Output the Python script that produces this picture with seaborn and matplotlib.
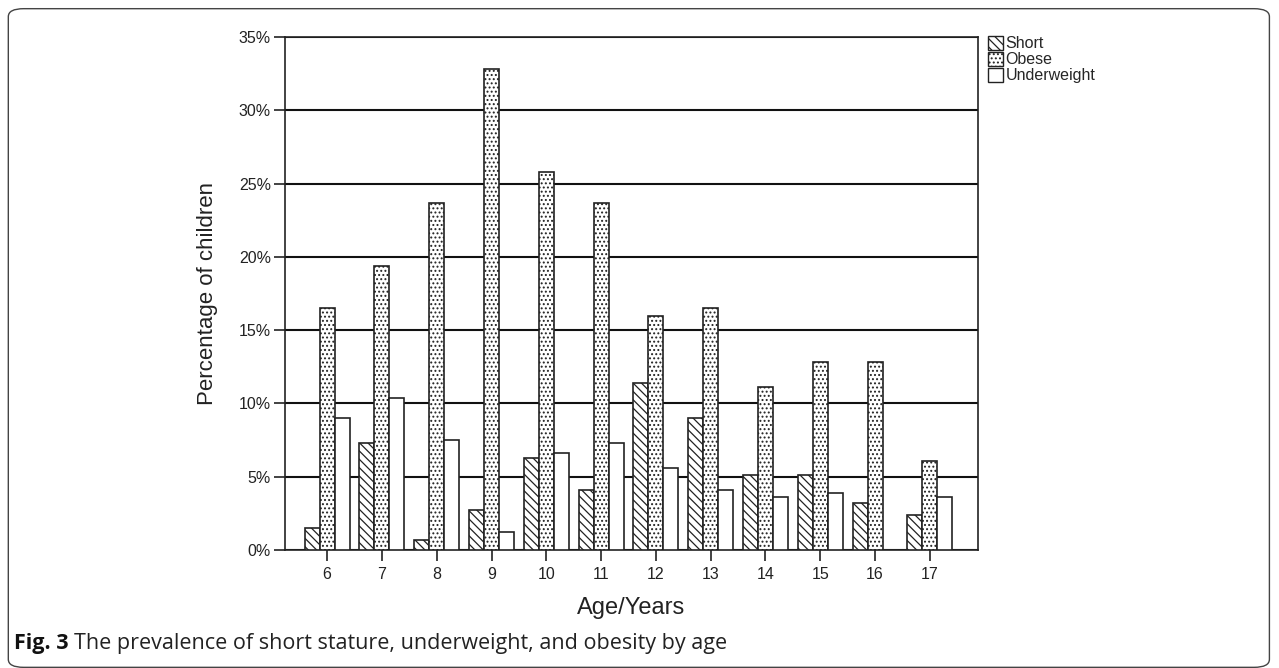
import numpy as np
import pandas as pd
import matplotlib
matplotlib.use('Agg')
import matplotlib.pyplot as plt
import seaborn as sns
from matplotlib.patches import Patch, FancyBboxPatch
from matplotlib.ticker import FuncFormatter

# ---------- data ----------
ages = ['6', '7', '8', '9', '10', '11', '12', '13', '14', '15', '16', '17']
short = [1.5, 7.3, 0.7, 2.7, 6.3, 4.1, 11.4, 9.0, 5.1, 5.1, 3.2, 2.4]
obese = [16.5, 19.4, 23.7, 32.8, 25.8, 23.7, 16.0, 16.5, 11.1, 12.8, 12.8, 6.1]
underweight = [9.0, 10.4, 7.5, 1.2, 6.6, 7.3, 5.6, 4.1, 3.6, 3.9, 0.0, 3.6]
groups = ['Short', 'Obese', 'Underweight']
hatches = ['\\\\\\\\', '....', '']

df = pd.DataFrame({
    'age': ages * 3,
    'value': short + obese + underweight,
    'group': [g for g in groups for _ in ages],
})

sns.set_style('white')
plt.rcParams['font.family'] = ['Liberation Sans', 'DejaVu Sans']
plt.rcParams['hatch.linewidth'] = 0.9

fig = plt.figure(figsize=(12.79, 6.68), dpi=100)
ax = fig.add_axes([0.2228, 0.1766, 0.5419, 0.768])

sns.barplot(data=df, x='age', y='value', hue='group', order=ages,
            hue_order=groups, palette=['white'] * 3, width=0.82,
            edgecolor='#222222', linewidth=1.2, saturation=1,
            legend=False, ax=ax)

for cont, h in zip(ax.containers, hatches):
    for bar in cont:
        bar.set_hatch(h)
        bar.set_zorder(3)

ax.set_ylim(0, 35)
ax.set_xlim(-0.77, 11.88)
ax.set_yticks(np.arange(0, 36, 5))
ax.yaxis.set_major_formatter(FuncFormatter(lambda v, p: f'{v:.0f}%'))
ax.yaxis.grid(True, color='#111111', lw=1.5)
ax.set_axisbelow(True)
for s in ax.spines.values():
    s.set_color('#222222')
    s.set_linewidth(1.2)
    s.set_visible(True)

ax.tick_params(axis='both', direction='out', length=8, width=1.2,
               color='#222222', labelsize=11.5, left=True, bottom=True,
               labelcolor='#222222', pad=2)
ax.tick_params(axis='x', pad=4)
ax.set_xlabel('Age/Years', fontsize=17, labelpad=11, color='#222222')
ax.set_ylabel('Percentage of children', fontsize=16, labelpad=15,
              color='#222222')

handles = [Patch(facecolor='white', edgecolor='#222222', hatch=h, label=g)
           for g, h in zip(groups, hatches)]
ax.legend(handles=handles, loc='upper left', bbox_to_anchor=(1.003, 1.018),
          frameon=False, fontsize=11.5, handlelength=0.95, handleheight=0.95,
          handletextpad=0.15, labelspacing=0.05, borderaxespad=0.1)

# frame and caption
border = FancyBboxPatch((0.0065, 0.001), 0.986, 0.986,
                        boxstyle='round,pad=0,rounding_size=0.012',
                        transform=fig.transFigure, fill=False,
                        edgecolor='#444444', lw=1.0)
fig.patches.append(border)

cap_font = ['Open Sans', 'DejaVu Sans']
t1 = fig.text(0.011, 0.036, 'Fig. 3', fontsize=15.5, fontweight='bold',
              family=cap_font, va='center', color='#111111')
fig.canvas.draw()
bb = t1.get_window_extent().transformed(fig.transFigure.inverted())
fig.text(bb.x1 + 0.004, 0.036,
         'The prevalence of short stature, underweight, and obesity by age',
         fontsize=15.5, family=cap_font, va='center', color='#222222')

plt.savefig('out.png', dpi=100)
